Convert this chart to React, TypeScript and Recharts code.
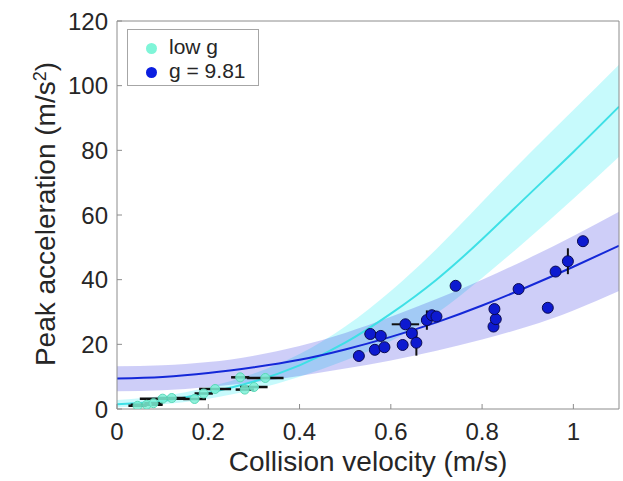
import React from "react";
import {
  ComposedChart, Area, Line, Scatter, ErrorBar, XAxis, YAxis,
} from "recharts";

// fit curves, read at v = 0 .. 1.1
const FIT_V = [0, 0.1, 0.2, 0.3, 0.4, 0.5, 0.6, 0.7, 0.8, 0.9, 1.0, 1.1];
const LOWG_FIT = [1.5, 2.5, 5, 8.5, 13.5, 20.5, 29.5, 40, 52.5, 66, 79.5, 93.5];
const LOWG_LO = [0.5, 1.5, 3.2, 6, 10, 15, 21, 29.5, 40.5, 52.5, 65, 78];
const LOWG_HI = [2.8, 4, 6.8, 11, 17, 25.5, 36.5, 49.5, 64, 78.5, 92.5, 106.5];
const EARTH_FIT = [9.4, 9.9, 11.1, 12.9, 15.2, 18.4, 22.3, 26.8, 32, 37.8, 44, 50.5];
const EARTH_LO = [5.5, 5.8, 6.8, 8.3, 10.2, 12.5, 15, 18, 21.5, 25.5, 30.5, 36.5];
const EARTH_HI = [13.2, 13.5, 14.5, 16.5, 19.5, 23.5, 28.5, 34, 40, 46.5, 53.5, 61];

// low g measurements
const LOWG_V = [0.045, 0.065, 0.08, 0.1, 0.12, 0.17, 0.19, 0.215, 0.27, 0.28, 0.3, 0.325];
const LOWG_A = [1.0, 1.3, 1.8, 3.2, 3.4, 3.1, 4.8, 6.2, 9.8, 6.0, 6.8, 9.6];
const LOWG_XERR = [0.02, 0.035, 0.02, 0.05, 0.03, 0.025, 0.02, 0.035, 0.02, 0.02, 0.03, 0.04];

// g = 9.81 measurements
const EARTH_V = [0.53, 0.555, 0.565, 0.578, 0.586, 0.626, 0.632, 0.646, 0.656, 0.679, 0.69, 0.7,
  0.742, 0.825, 0.83, 0.827, 0.88, 0.944, 0.961, 0.988, 1.021];
const EARTH_A = [16.4, 23.2, 18.3, 22.6, 19.1, 19.8, 26.2, 23.4, 20.5, 27.5, 29, 28.6,
  38.1, 25.5, 27.8, 30.9, 37.1, 31.3, 42.5, 45.7, 51.9];
const EARTH_XERR = [0, 0.012, 0, 0.01, 0, 0, 0.03, 0, 0, 0.008, 0.01, 0,
  0, 0, 0, 0, 0, 0, 0, 0, 0];
const EARTH_YERR = [0, 1, 0, 0, 0, 0, 0, 0, 4, 3, 0, 0,
  0, 1, 1, 0, 0, 0, 0, 4, 0];

const X_TICKS = [0, 0.2, 0.4, 0.6, 0.8, 1];
const Y_TICKS = [0, 20, 40, 60, 80, 100, 120];

const curves = FIT_V.map((v, i) => ({
  v,
  lowFit: LOWG_FIT[i],
  lowBand: [LOWG_LO[i], LOWG_HI[i]],
  earthFit: EARTH_FIT[i],
  earthBand: [EARTH_LO[i], EARTH_HI[i]],
}));
const lowPts = LOWG_V.map((v, i) => ({ v, a: LOWG_A[i], xerr: LOWG_XERR[i] }));
const earthPts = EARTH_V.map((v, i) => ({ v, a: EARTH_A[i], xerr: EARTH_XERR[i], yerr: EARTH_YERR[i] }));

const FONT = "'Liberation Sans', Arial, Helvetica, sans-serif";
const AXIS = "#8c8c8c";
const TXT = "#262626";

const fmtX = (v: number) => (v === 0 ? "0" : v === 1 ? "1" : String(v));

export default function App() {
  const tick = { fill: TXT, fontSize: 24, fontFamily: FONT };
  return (
    <div style={{ position: "absolute", left: 0, top: 0, width: 623, height: 481, background: "#fff", fontFamily: FONT }}>
      <ComposedChart width={623} height={481} data={curves}
        margin={{ top: 20, right: 3, bottom: 71, left: 116 }}>
        <XAxis dataKey="v" type="number" domain={[0, 1.1]} ticks={X_TICKS} allowDataOverflow
          tickFormatter={fmtX} tick={tick} height={1} tickSize={-5} tickMargin={19}
          stroke={AXIS} tickLine={{ stroke: AXIS }} />
        <XAxis xAxisId="top" orientation="top" type="number" domain={[0, 1.1]} ticks={X_TICKS}
          allowDataOverflow tick={false} height={1} tickSize={-5} stroke={AXIS} />
        <YAxis type="number" domain={[0, 120]} ticks={Y_TICKS} allowDataOverflow tick={tick}
          width={1} tickSize={-5} tickMargin={14} stroke={AXIS} />
        <YAxis yAxisId="right" orientation="right" type="number" domain={[0, 120]} ticks={Y_TICKS}
          allowDataOverflow tick={false} width={1} tickSize={-5} stroke={AXIS} />

        <Area dataKey="lowBand" type="natural" stroke="none" fill="#00e8f0" fillOpacity={0.22}
          isAnimationActive={false} />
        <Area dataKey="earthBand" type="natural" stroke="none" fill="#2222e0" fillOpacity={0.22}
          isAnimationActive={false} />
        <Line dataKey="lowFit" type="natural" stroke="#3ee0e6" strokeWidth={2} dot={false}
          isAnimationActive={false} />
        <Line dataKey="earthFit" type="natural" stroke="#1428d8" strokeWidth={2} dot={false}
          isAnimationActive={false} />

        <Scatter data={lowPts} dataKey="a" fill="#7ef0d6"
          shape={(p: any) => <circle cx={p.cx} cy={p.cy} r={4.5} fill="#7ef0d6" fillOpacity={0.85} stroke="#5cd8b8" />}
          isAnimationActive={false}>
          <ErrorBar dataKey="xerr" direction="x" width={0} stroke="#111" strokeWidth={2.5} />
        </Scatter>
        <Scatter data={earthPts} dataKey="a" fill="#0d1ad0"
          shape={(p: any) => <circle cx={p.cx} cy={p.cy} r={5.5} fill="#0d1ad0" stroke="#0a0a50" strokeWidth={1} />}
          isAnimationActive={false}>
          <ErrorBar dataKey="xerr" direction="x" width={0} stroke="#111" strokeWidth={2} />
          <ErrorBar dataKey="yerr" direction="y" width={0} stroke="#111" strokeWidth={2} />
        </Scatter>
      </ComposedChart>

      <div style={{ position: "absolute", left: 127, top: 29, width: 130, height: 55, border: "1px solid #a6a6a6",
        background: "#fff", fontSize: 21, color: TXT }}>
        <div style={{ position: "absolute", left: 18, top: 13, width: 11, height: 11, borderRadius: "50%", background: "#7ff5d8" }} />
        <div style={{ position: "absolute", left: 41, top: 5, lineHeight: "24px" }}>low g</div>
        <div style={{ position: "absolute", left: 18, top: 37, width: 11, height: 11, borderRadius: "50%", background: "#0b1ee0" }} />
        <div style={{ position: "absolute", left: 41, top: 29, lineHeight: "24px", whiteSpace: "nowrap" }}>g = 9.81</div>
      </div>

      <div style={{ position: "absolute", left: 368, top: 462, transform: "translate(-50%, -50%)", fontSize: 28,
        color: TXT, whiteSpace: "nowrap" }}>Collision velocity (m/s)</div>
      <div style={{ position: "absolute", left: 46, top: 214, transform: "translate(-50%, -50%) rotate(-90deg)",
        fontSize: 28, color: TXT, whiteSpace: "nowrap" }}>
        Peak acceleration (m/s<sup style={{ fontSize: 18, verticalAlign: "9px", lineHeight: 0 }}>2</sup>)
      </div>
    </div>
  );
}
